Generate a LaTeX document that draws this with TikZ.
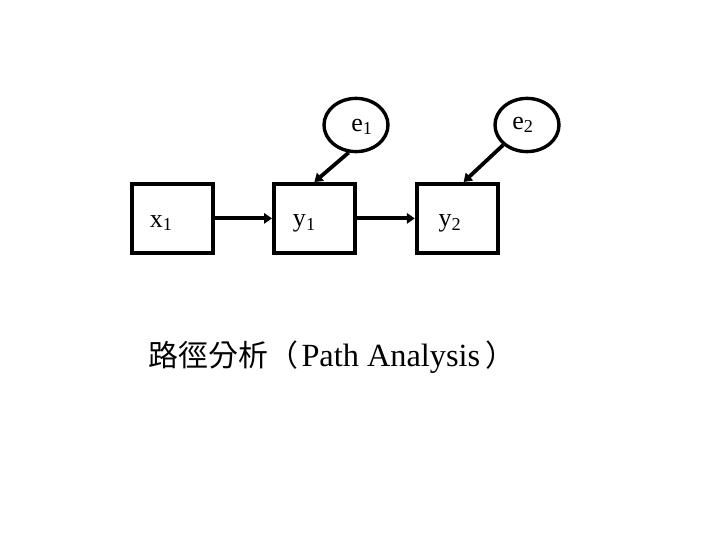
\documentclass[tikz,border=0pt]{standalone}
\usepackage{fontspec}
\setmainfont{Liberation Serif}
\newfontfamily\cjk{Noto Sans CJK TC}
\usetikzlibrary{calc,shapes.geometric,arrows.meta}
\tikzset{
	varbox/.style = {draw, line width = 1mm, minimum width = 2.02cm, minimum height = 1.72cm, inner sep = 0pt},
	errnode/.style = {draw, ellipse, line width = 0.85mm, minimum width = 1.6cm, minimum height = 1.33cm, inner sep = 0pt},
	lbl/.style = {font = \fontsize{18.5}{20}\selectfont},
	path arrow/.style = {line width = 0.95mm, -{Triangle[length=2mm,width=2.6mm]}}
}
\begin{document}
\begin{tikzpicture}
						\useasboundingbox (0,0) rectangle (18,13.5);
						
						\node[varbox] (x1) at (4.31,8.04) {};
						\node[varbox] (y1) at (7.86,8.04) {};
						\node[varbox] (y2) at (11.43,8.04) {};
						
						\node[errnode] (e1) at (8.9,10.375) {};
						\node[errnode] (e2) at (13.175,10.375) {};
						
						\node[lbl] (x1lbl) at ($(x1)+(-0.28,-0.12)$) {x\textsubscript{1}};
						\node[lbl] (y1lbl) at ($(y1)+(-0.25,-0.12)$) {y\textsubscript{1}};
						\node[lbl] (y2lbl) at ($(y2)+(-0.18,-0.12)$) {y\textsubscript{2}};
						\node[lbl] (e1lbl) at ($(e1)+(0.15,-0.05)$) {e\textsubscript{1}};
						\node[lbl] (e2lbl) at ($(e2)+(-0.1,0.0)$) {e\textsubscript{2}};
						
						\draw[path arrow] (x1) -- (y1);
						\draw[path arrow] (y1) -- (y2);
						\draw[path arrow] (e1.-105) -- (y1.north);
						\draw[path arrow] (e2.-140) -- (y2.80);
						
						%\node at (8.3,4.6) {Path Analysis};
						\node[anchor = west, inner sep = 0pt, font = \fontsize{23}{25}\selectfont] (title) at (3.7,4.575) {{\cjk\fontsize{21.3}{25}\selectfont 路徑分析（}\hspace{2.5pt}Path Analysis\hspace{4pt}{\cjk\fontsize{21.3}{25}\selectfont ）}};
					
					\end{tikzpicture}
\end{document}
